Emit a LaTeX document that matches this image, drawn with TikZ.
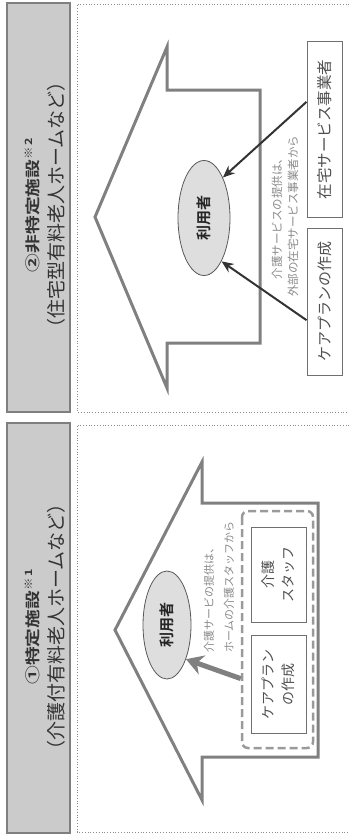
\documentclass[tikz,border=0pt]{standalone}
\usepackage{fontspec}
\setmainfont{Noto Sans CJK JP}[BoldFont={Noto Sans CJK JP Bold}]
\newfontfamily\headfont{Noto Sans CJK JP Bold}[FakeStretch=1.25]
\usetikzlibrary{shapes.geometric, arrows.meta, calc}

\definecolor{hdrfill}{HTML}{CBCBCB}
\definecolor{hdrline}{HTML}{7F7F7F}
\definecolor{arrowgray}{HTML}{808080}
\definecolor{framegray}{HTML}{8C8C8C}
\definecolor{userfill}{HTML}{DEDEDE}
\definecolor{userline}{HTML}{595959}
\definecolor{boxline}{HTML}{707070}
\definecolor{boxtext}{HTML}{505050}
\definecolor{notegray}{HTML}{8A8A8A}
\definecolor{arrowdark}{HTML}{333333}
\definecolor{teamdash}{HTML}{9A9A9A}
\definecolor{txtdark}{HTML}{333333}

\begin{document}
\begin{tikzpicture}[x=1bp, y=-1bp,
    % --- 样式定义 ---
    hdrbox/.style={draw=hdrline, fill=hdrfill, line width=2bp, rotate=90,
        minimum width=409bp, minimum height=63bp, inner sep=0pt},
    hdrtext/.style={rotate=90, align=center, text=txtdark, inner sep=0pt,
        font=\fontsize{19bp}{25bp}\selectfont},
    house/.style={draw=arrowgray, line width=3bp, line join=miter},
    frame/.style={draw=framegray, dotted, line width=0.8bp},
    user/.style={ellipse, draw=userline, fill=userfill, line width=0.8bp, rotate=90,
        inner sep=0pt, text=black!85, font=\bfseries\fontsize{15bp}{15bp}\selectfont},
    box/.style={draw=boxline, line width=1bp, rotate=90, inner sep=0pt,
        align=center, text=boxtext},
    team/.style={draw=teamdash, line width=2.5bp, dash pattern=on 8bp off 4bp,
        rounded corners=6bp, rotate=90, inner sep=0pt},
    note/.style={rotate=90, text=notegray, inner sep=0pt},
    svc/.style={draw=arrowdark, line width=2bp, -{Stealth[length=12bp, width=10bp]}},
    staffarrow/.style={draw=arrowgray, line width=5bp, -{Stealth[length=17bp, width=20bp]}}
]
    \useasboundingbox (0,0) rectangle (348,838);

    % =========================================
    % 【上：②非特定施设】
    % =========================================
    \begin{scope}
        \node[hdrbox] (hdr2) at (38.5, 207.5) {};
        \node[hdrtext] (hdr2txt) at (45.5, 205)
            {{\headfont\fontsize{15bp}{15bp}\selectfont ②非特定施設\raisebox{6bp}{\fontsize{10bp}{10bp}\selectfont ※\,2}}\\
             （住宅型有料老人ホームなど）};

        \draw[frame] (352,4) -- (77,4) -- (77,412) -- (352,412);

        % 大箭头 (外框)
        \draw[house] (95,217) -- (167,47) -- (167,90) -- (260,90)
            -- (260,343) -- (167,343) -- (167,388) -- cycle;

        \node[user, minimum width=115bp, minimum height=52bp] (user2) at (204,218) {利用者};

        \node[box, minimum width=175bp, minimum height=35bp,
            font=\fontsize{15.5bp}{18bp}\selectfont] (zaitaku2) at (324.5,129.5) {在宅サービス事業者};
        \node[box, minimum width=147bp, minimum height=35bp,
            font=\fontsize{15bp}{18bp}\selectfont] (plan2) at (324.5,301.5) {ケアプランの作成};

        \node[note, align=center, font=\fontsize{11.5bp}{16bp}\selectfont] (note2) at (285,216)
            {介護サービスの提供は、\\外部の在宅サービス事業者から};

        % 连线
        \draw[svc] ($(zaitaku2.north west)!0.657!(zaitaku2.north east)$) -- (user2.-25);
        \draw[svc] ($(plan2.north west)!0.374!(plan2.north east)$) -- (user2.202);
    \end{scope}

    % =========================================
    % 【下：①特定施设】 整体向下平移 420
    % =========================================
    \begin{scope}[shift={(0,420)}]
        \node[hdrbox, minimum width=410bp] (hdr1) at (38.5, 208) {};
        \node[hdrtext] (hdr1txt) at (45.5, 207)
            {{\headfont\fontsize{15bp}{15bp}\selectfont ①特定施設\raisebox{6bp}{\fontsize{10bp}{10bp}\selectfont ※\,1}}\\
             （介護付有料老人ホームなど）};

        \draw[frame] (352,5) -- (77,5) -- (77,412) -- (352,412);

        \draw[house] (115,210) -- (202,42) -- (202,83) -- (318,83)
            -- (318,337) -- (202,337) -- (202,380) -- cycle;

        \node[user, minimum width=108bp, minimum height=48bp] (user1) at (167,205) {利用者};

        % 虚线框 + 内部两个框
        \node[team, minimum width=237bp, minimum height=71bp] (team1) at (277.5,209.5) {};
        \node[box, minimum width=95bp, minimum height=55bp,
            font=\fontsize{14bp}{20bp}\selectfont] (staff1) at (278.5,154.5) {介護\\スタッフ};
        \node[box, minimum width=98bp, minimum height=55bp,
            font=\fontsize{14bp}{20bp}\selectfont] (plan1) at (278.5,264) {ケアプラン\\の作成};

        \node[note, align=left, anchor=west, font=\fontsize{11bp}{20bp}\selectfont] (note1) at (219,233)
            {介護サービの提供は、\\ホームの介護スタッフから};

        \draw[staffarrow] ($(team1.north west)!0.295!(team1.north east)$) -- (user1.209);
    \end{scope}

\end{tikzpicture}
\end{document}
